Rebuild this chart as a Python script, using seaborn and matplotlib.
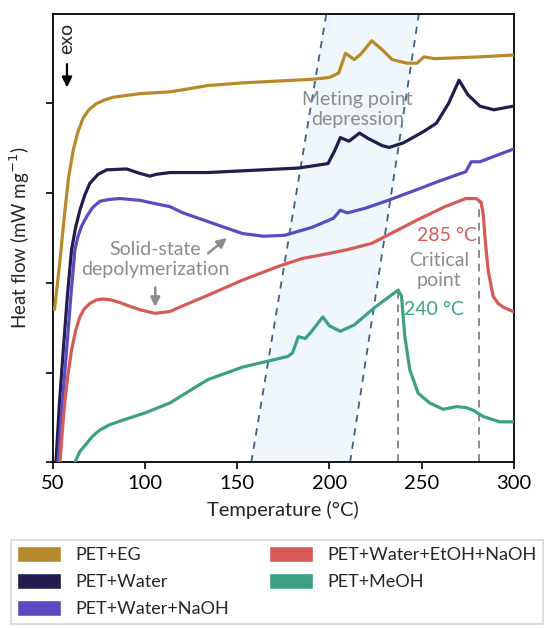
import matplotlib
matplotlib.use("Agg")
import matplotlib.pyplot as plt
import matplotlib.patches as mpatches
import seaborn as sns

sns.set_theme(style="ticks")
plt.rcParams['font.family'] = ['Lato', 'DejaVu Sans']

# data (temperature in °C, heat flow in tick units)
eg_t = [50.8, 52.2, 53.8, 56.5, 58.5, 61, 63.5, 66.4, 69.5, 73.7, 78, 82.7, 97.2, 113.4, 122.5,
        134, 153, 190.7, 200, 205, 208.7, 213.4, 217, 222.9, 228.6, 234, 241.9, 247.5, 251.3,
        257, 281.6, 299.6]
eg_y = [1.7, 1.95, 2.25, 2.81, 3.18, 3.48, 3.68, 3.84, 3.93, 4.00, 4.04, 4.07, 4.11, 4.13, 4.16,
        4.20, 4.23, 4.27, 4.29, 4.34, 4.56, 4.49, 4.55, 4.70, 4.60, 4.49, 4.45, 4.45, 4.52,
        4.50, 4.52, 4.54]

water_t = [51.6, 53.5, 55.6, 57.8, 60.1, 62.3, 64.6, 67.3, 70, 74.5, 79.1, 90, 97.2, 102.6,
           106, 113.4, 133.9, 183.1, 199.2, 203, 205.9, 210.6, 216.3, 221, 228.6, 232.4, 240,
           251.3, 258, 264.6, 270.3, 275, 281.6, 289.2, 299.6]
water_y = [0, 0.65, 1.25, 1.85, 2.37, 2.62, 2.81, 2.98, 3.11, 3.21, 3.26, 3.27, 3.22, 3.19,
           3.21, 3.23, 3.23, 3.28, 3.33, 3.48, 3.62, 3.58, 3.67, 3.61, 3.53, 3.51, 3.56,
           3.69, 3.78, 4.00, 4.26, 4.10, 3.97, 3.93, 3.97]

naoh_t = [52.7, 55, 57.4, 59.7, 61.9, 63.6, 65.5, 68.3, 71.5, 75.5, 80.5, 86.3, 97.2, 106.2,
          113.4, 120.6, 141.5, 152.8, 164.2, 175.6, 190.7, 202.1, 205.9, 209.7, 219.1, 230.5,
          247.5, 258.9, 274, 276.9, 281.6, 289.2, 299.6]
naoh_y = [0, 0.65, 1.25, 1.85, 2.37, 2.52, 2.63, 2.74, 2.84, 2.91, 2.93, 2.94, 2.92, 2.88,
          2.85, 2.78, 2.63, 2.55, 2.52, 2.53, 2.62, 2.72, 2.81, 2.78, 2.83, 2.91, 3.04, 3.13,
          3.24, 3.35, 3.35, 3.41, 3.49]

etoh_t = [53.8, 55.1, 56.5, 58.3, 60.1, 62.3, 64.6, 67, 70, 73.5, 77.3, 81.5, 86.3, 91.5, 97.2,
          105.3, 113.4, 120, 133.9, 152.8, 171.8, 185, 200.2, 209.7, 222.9, 228.6, 247.5,
          262.7, 274, 279.7, 282.3, 283.5, 284.6, 286.1, 288.8, 291.5, 294.2, 299.6]
etoh_y = [0, 0.35, 0.69, 1.0, 1.25, 1.47, 1.62, 1.71, 1.77, 1.81, 1.82, 1.81, 1.78, 1.74, 1.70,
          1.66, 1.68, 1.74, 1.86, 2.03, 2.18, 2.27, 2.33, 2.37, 2.44, 2.50, 2.70, 2.85, 2.94,
          2.94, 2.90, 2.75, 2.45, 2.14, 1.85, 1.77, 1.73, 1.68]

meoh_t = [61.9, 64.6, 68.3, 71.5, 75.5, 81, 88.1, 100, 113.4, 133.9, 152.8, 177.5, 180, 183.1,
          186.9, 190, 196.4, 200, 205.9, 213.4, 224.8, 237.3, 239.1, 240.9, 243.6, 248.1,
          254.4, 261.7, 268.9, 274, 277.9, 283.4, 292.4, 299.6]
meoh_y = [0, 0.12, 0.21, 0.29, 0.36, 0.42, 0.47, 0.55, 0.66, 0.92, 1.06, 1.18, 1.22, 1.40,
          1.38, 1.45, 1.62, 1.52, 1.46, 1.53, 1.73, 1.92, 1.85, 1.40, 1.03, 0.77,
          0.66, 0.59, 0.62, 0.61, 0.58, 0.51, 0.45, 0.45]

labels = ['PET+EG', 'PET+Water', 'PET+Water+NaOH', 'PET+Water+EtOH+NaOH', 'PET+MeOH']
colors = ['#B8892A', '#221C4F', '#5A4BC2', '#D65A58', '#3DA085']

# melting point depression band (bottom/top temperatures of the two dashed lines)
band_left = [157.6, 198.3]
band_right = [211.2, 248.5]
# critical points: temperature, height of line
crit_t = [237.1, 281.2]
crit_top = [1.92, 2.92]

fig = plt.figure(figsize=(5.46, 6.28), dpi=100)
ax = fig.add_axes([0.097, 0.264, 0.844, 0.714])

ax.fill([band_left[0], band_left[1], band_right[1], band_right[0]], [0, 5, 5, 0],
        color='#EAF4FB', alpha=0.75, lw=0, zorder=0)
for b in (band_left, band_right):
    ax.plot(b, [0, 5], ls=(0, (4, 3.5)), color='#3E5F8A', lw=1.3, zorder=1)
for t, top in zip(crit_t, crit_top):
    ax.plot([t, t], [0, top], ls=(0, (4, 3)), color='#8A8A8A', lw=1.4, zorder=1)

series = [(eg_t, eg_y), (water_t, water_y), (naoh_t, naoh_y), (etoh_t, etoh_y), (meoh_t, meoh_y)]
for (t, y), c in zip(series, colors):
    sns.lineplot(x=t, y=y, color=c, lw=2.3, ax=ax, zorder=3)

ax.set_xlim(50, 300)
ax.set_ylim(0, 5)
ax.set_xticks([50, 100, 150, 200, 250, 300])
ax.set_yticks([0, 1, 2, 3, 4])
ax.set_yticklabels([])
ax.tick_params(direction='out', length=5, width=1.2, labelsize=14.5, colors='black', pad=4)
for s in ax.spines.values():
    s.set_linewidth(1.3)
    s.set_color('black')
ax.set_xlabel('Temperature (°C)', fontsize=14.5, labelpad=7)
ax.set_ylabel('Heat flow (mW mg$^{-1}$)', fontsize=13.5, labelpad=6)

gray = '#8C8C8C'
ax.text(57.6, 4.73, 'exo', rotation=90, fontsize=14, ha='center', va='center')
ax.annotate('', xy=(57.6, 4.15), xytext=(57.6, 4.47),
            arrowprops=dict(arrowstyle='-|>', color='black', lw=1.6, mutation_scale=15))
ax.text(215.3, 3.93, 'Meting point\ndepression', color=gray, fontsize=14, ha='center',
        va='center', linespacing=1.2)
ax.text(105.5, 2.26, 'Solid-state\ndepolymerization', color=gray, fontsize=14, ha='center',
        va='center', linespacing=1.2)
ax.annotate('', xy=(145.5, 2.52), xytext=(133, 2.31),
            arrowprops=dict(arrowstyle='-|>', color=gray, lw=1.8, mutation_scale=14))
ax.annotate('', xy=(105.5, 1.70), xytext=(105.5, 1.98),
            arrowprops=dict(arrowstyle='-|>', color=gray, lw=1.8, mutation_scale=14))
ax.text(263.5, 2.53, '285 °C', color=colors[3], fontsize=14, ha='center', va='center')
ax.text(259.5, 2.14, 'Critical\npoint', color=gray, fontsize=14, ha='center', va='center',
        linespacing=1.2)
ax.text(256.6, 1.70, '240 °C', color=colors[4], fontsize=14, ha='center', va='center')

handles = [mpatches.Patch(facecolor=c, edgecolor='white', label=l) for c, l in zip(colors, labels)]
leg = fig.legend(handles=handles, loc='upper left',
                 bbox_to_anchor=(0.0194, 0.140), ncol=2, fontsize=13, frameon=True,
                 handlelength=2.45, handleheight=0.95, handletextpad=0.8, columnspacing=2.2,
                 labelspacing=0.55, borderpad=0.35, borderaxespad=0, fancybox=False)
leg.get_frame().set_edgecolor('#CCCCCC')
leg.get_frame().set_linewidth(1.2)

fig.savefig('out.png', dpi=100)
